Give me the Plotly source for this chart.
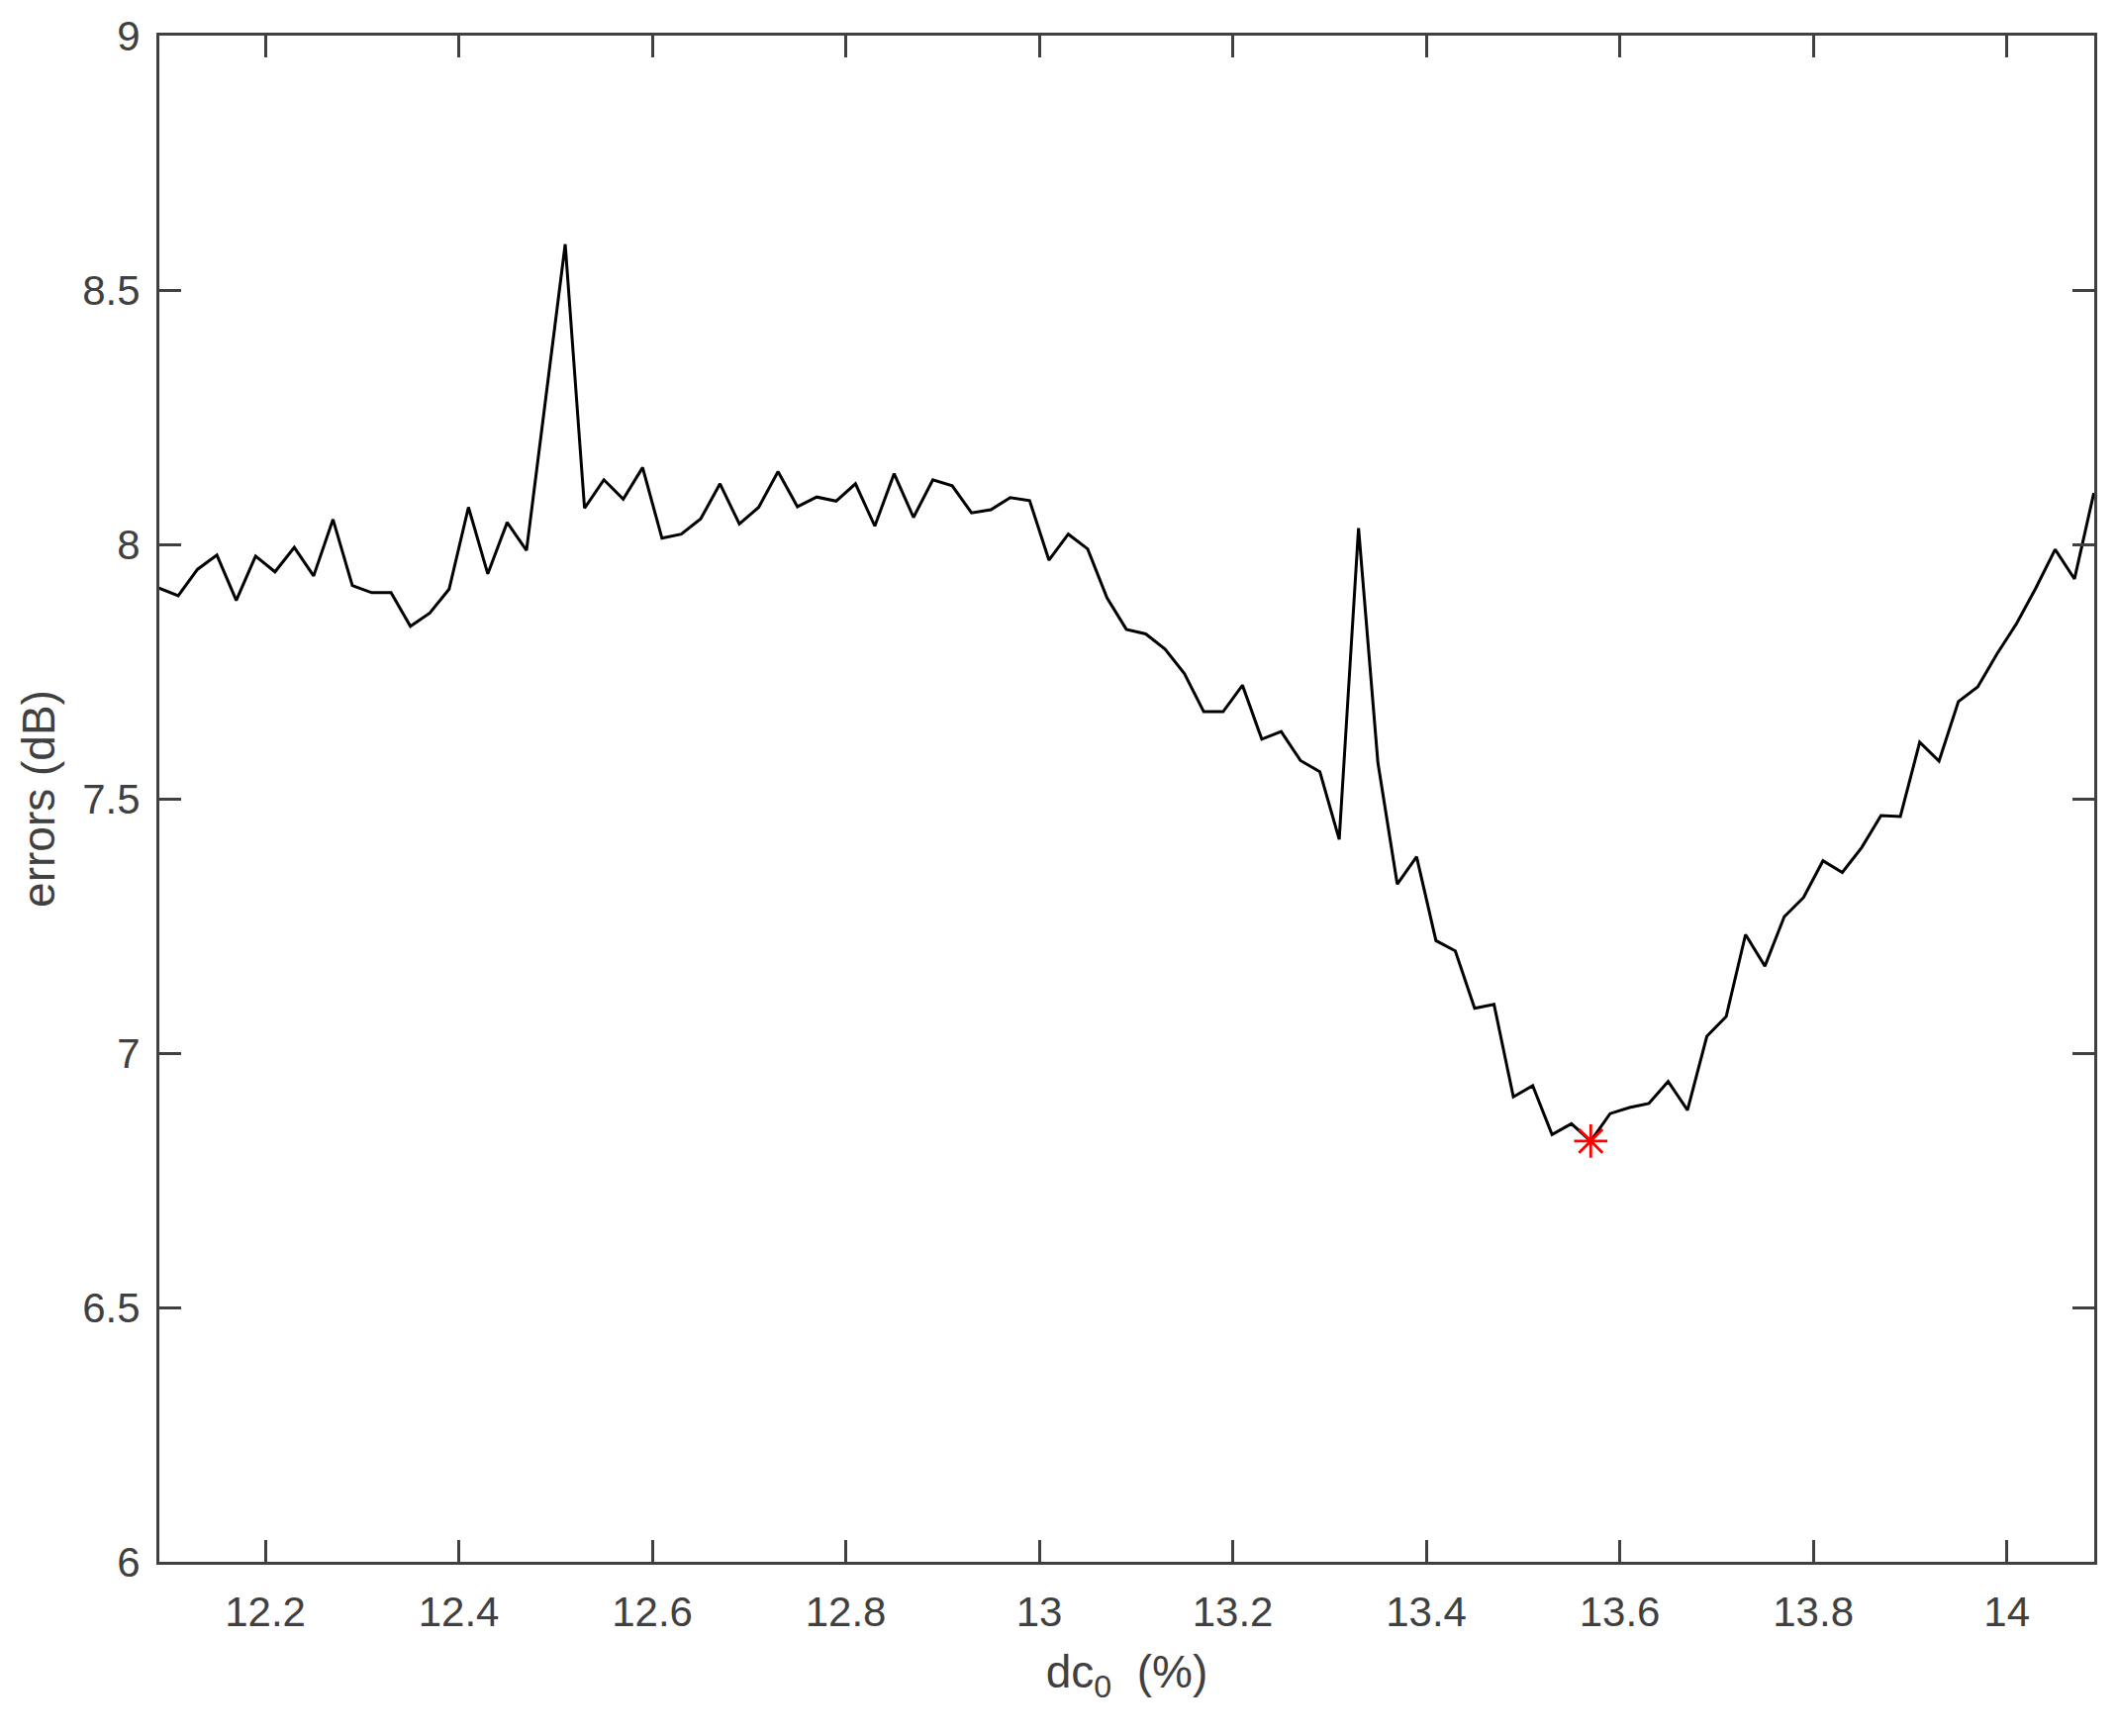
import plotly.graph_objects as go

# dc0 (%) sample positions: 12.09 .. 14.09, step 0.02
dc0_start = 12.09
dc0_step = 0.02
errors_db = [
    7.914, 7.899, 7.951, 7.979, 7.890, 7.977, 7.946, 7.994, 7.938, 8.049,
    7.919, 7.905, 7.905, 7.839, 7.865, 7.912, 8.073, 7.942, 8.043, 7.988,
    8.289, 8.590, 8.071, 8.127, 8.089, 8.151, 8.012, 8.020, 8.050, 8.119,
    8.040, 8.073, 8.143, 8.074, 8.093, 8.085, 8.119, 8.036, 8.139, 8.053,
    8.127, 8.115, 8.062, 8.068, 8.092, 8.086, 7.969, 8.020, 7.991, 7.895,
    7.833, 7.824, 7.794, 7.746, 7.671, 7.671, 7.723, 7.617, 7.632, 7.575,
    7.553, 7.420, 8.032, 7.571, 7.332, 7.386, 7.221, 7.201, 7.088, 7.096,
    6.914, 6.936, 6.840, 6.861, 6.827, 6.881, 6.893, 6.901, 6.944, 6.888,
    7.033, 7.072, 7.233, 7.171, 7.268, 7.306, 7.378, 7.355, 7.404, 7.467,
    7.465, 7.611, 7.574, 7.691, 7.720, 7.785, 7.844, 7.914, 7.990, 7.932,
    8.101,
]
dc0 = [round(dc0_start + i * dc0_step, 2) for i in range(len(errors_db))]

x_tickvals = [12.2, 12.4, 12.6, 12.8, 13.0, 13.2, 13.4, 13.6, 13.8, 14.0]
x_ticktext = ["12.2", "12.4", "12.6", "12.8", "13", "13.2", "13.4", "13.6", "13.8", "14"]
y_tickvals = [6, 6.5, 7, 7.5, 8, 8.5, 9]
y_ticktext = ["6", "6.5", "7", "7.5", "8", "8.5", "9"]

# minimum point
imin = min(range(len(errors_db)), key=lambda i: errors_db[i])
min_x = [dc0[imin]]
min_y = [errors_db[imin]]

AX = "#404040"
FONT = "Liberation Sans, Arial, Helvetica, sans-serif"

fig = go.Figure()
fig.add_trace(go.Scatter(
    x=dc0, y=errors_db, mode="lines",
    line=dict(color="black", width=3),
    showlegend=False,
))
fig.add_trace(go.Scatter(
    x=min_x, y=min_y, mode="markers",
    marker=dict(symbol="asterisk-open", size=28, color="red",
                line=dict(color="red", width=2.8)),
    showlegend=False,
))

axis_common = dict(
    showgrid=False, zeroline=False,
    showline=True, linecolor=AX, linewidth=3,
    mirror="allticks", ticks="inside", ticklen=22, tickwidth=3, tickcolor=AX,
    tickfont=dict(family=FONT, size=42, color=AX),
)

fig.update_layout(
    width=2139, height=1754,
    paper_bgcolor="white", plot_bgcolor="white",
    margin=dict(l=161, r=23, t=36, b=176),
    font=dict(family=FONT, color=AX),
    hovermode=False,
    xaxis=dict(
        range=[12.0905, 14.0904],
        tickmode="array", tickvals=x_tickvals, ticktext=x_ticktext,
        ticklabelstandoff=12,
        title=dict(text="dc<sub>0</sub>  (%)", font=dict(family=FONT, size=46, color=AX), standoff=22),
        **axis_common,
    ),
    yaxis=dict(
        range=[6, 9],
        tickmode="array", tickvals=y_tickvals, ticktext=y_ticktext,
        ticklabelstandoff=8,
        title=dict(text="errors (dB)", font=dict(family=FONT, size=46, color=AX), standoff=14),
        **axis_common,
    ),
)

fig.write_html("out.html", config={"displayModeBar": False},
               post_script="document.body.style.margin='0';")
